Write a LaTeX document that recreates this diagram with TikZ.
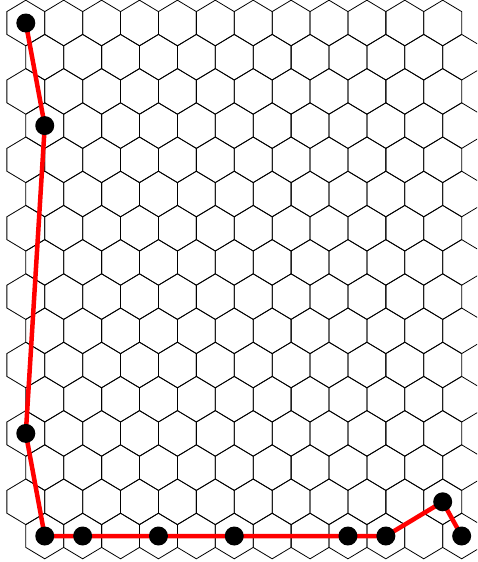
\documentclass[tikz,border=0pt]{standalone}
\begin{document}
\begin{tikzpicture}[x=1pt,y=-1pt,
  hexline/.style={draw=black,line width=0.8pt,line join=miter},
  redpath/.style={draw=red,line width=4.5pt},
  dot/.style={circle,fill=black,minimum size=19pt,inner sep=0pt}]
\useasboundingbox (0,0) rectangle (477,562);
\begin{scope}
\clip (0,0) rectangle (477,562);
\foreach \r in {0,...,15}{
  \foreach \c in {0,...,11}{
    \pgfmathsetmacro\cx{25.8+37.9*\c+18.95*mod(\r,2)}
    \pgfmathsetmacro\cy{23+34.2*\r}
    \draw[hexline] ({\cx},{\cy-22.8}) -- ++(18.95,11.4) -- ++(0,22.8) -- ++(-18.95,11.4) -- ++(-18.95,-11.4) -- ++(0,-22.8) -- cycle;
  }
}
\end{scope}
\coordinate (p0) at (25.8,23);
\coordinate (p1) at (44.75,125.6);
\coordinate (p2) at (25.8,433.4);
\coordinate (p3) at (44.75,536);
\coordinate (p4) at (82.65,536);
\coordinate (p5) at (158.45,536);
\coordinate (p6) at (234.25,536);
\coordinate (p7) at (347.95,536);
\coordinate (p8) at (385.85,536);
\coordinate (p9) at (442.7,501.8);
\coordinate (p10) at (461.65,536);
\draw[redpath] (p0) -- (p1) -- (p2) -- (p3) -- (p4) -- (p5) -- (p6) -- (p7) -- (p8) -- (p9) -- (p10);
\foreach \i in {0,...,10}{
  \node[dot] (n\i) at (p\i) {};
}
\end{tikzpicture}
\end{document}
